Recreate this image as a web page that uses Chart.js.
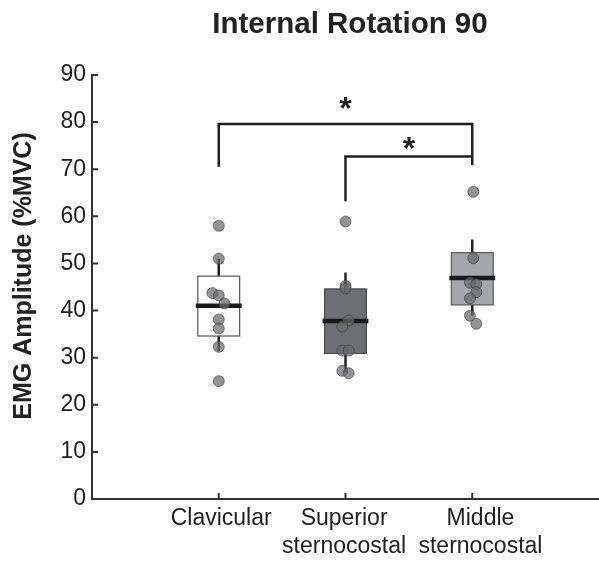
<!DOCTYPE html>
<html>
  <head>
    <title>Internal Rotation 90</title>
    <script src="https://cdn.jsdelivr.net/npm/chart.js"></script>
    <style>
      html, body { margin: 0; padding: 0; background: #fff; overflow: hidden; }
      canvas { display: block; }
    </style>
  </head>
  <body>
    <canvas id="emgChart" width="599" height="565"></canvas>
    <script>
      // groups along the x axis
      var categories = [["Clavicular"], ["Superior", "sternocostal"], ["Middle", "sternocostal"]];

      // individual subjects, %MVC
      var clavicularValues = [58.0, 51.0, 43.7, 43.2, 41.5, 38.1, 36.2, 32.3, 25.0];
      var clavicularJitter = [0, 0, -0.05, 0, 0.045, 0, 0, 0, 0];
      var superiorValues = [58.9, 45.2, 44.7, 37.9, 36.6, 31.5, 31.5, 27.2, 26.7];
      var superiorJitter = [0, 0, 0, 0.025, -0.025, -0.025, 0.025, -0.025, 0.025];
      var middleValues = [65.2, 51.1, 45.9, 45.6, 43.9, 42.6, 38.9, 37.2];
      var middleJitter = [0.008, 0.008, -0.018, 0.032, 0.032, -0.018, -0.018, 0.032];

      // box summaries per group
      var boxLow = [34.6, 30.9, 41.2];
      var boxMedian = [41.0, 37.8, 46.9];
      var boxHigh = [47.3, 44.6, 52.3];
      var whiskerLow = [31.4, 26.9, 38.9];
      var whiskerHigh = [51.0, 48.1, 55.1];

      // significance brackets and stars
      var bracketLong = [{ x: 1, y: 70.5 }, { x: 1, y: 79.6 }, { x: 3, y: 79.6 }, { x: 3, y: 70.9 }];
      var bracketShort = [{ x: 2, y: 63.2 }, { x: 2, y: 72.7 }, { x: 3, y: 72.7 }];
      var starX = [2, 2.5];
      var starY = [84.1, 75.5];

      var yMin = 0, yMax = 90, yStep = 10;

      var boxFill = ["#ffffff", "#6e6f73", "#a4a6a9"];
      var boxEdge = ["#555555", "#4a4a4a", "#5a5a5a"];
      var labelShift = [2.4, -1.4, 8.2]; // the category labels sit a bit off their ticks
      var textColor = "#222222";
      var fontFamily = "'Liberation Sans', Arial, sans-serif";

      function toPoints(values, jitter, pos) {
        return values.map(function (v, i) { return { x: pos + jitter[i], y: v }; });
      }

      var pointStyle = {
        pointRadius: 5.5,
        pointBackgroundColor: "rgba(105,105,110,0.72)",
        pointBorderColor: "rgba(60,60,60,0.6)",
        pointBorderWidth: 1,
      };

      var boxPlot = {
        id: "boxPlot",
        beforeDatasetsDraw: function (chart) {
          var c = chart.ctx, xs = chart.scales.x, ys = chart.scales.y;
          var half = (xs.getPixelForValue(1) - xs.getPixelForValue(0)) * 0.165;
          c.save();
          for (var i = 0; i < categories.length; i++) {
            var cx = xs.getPixelForValue(i + 1);
            var top = ys.getPixelForValue(boxHigh[i]);
            var bottom = ys.getPixelForValue(boxLow[i]);
            // whiskers
            c.strokeStyle = "#222";
            c.lineWidth = 2.5;
            c.beginPath();
            c.moveTo(cx, ys.getPixelForValue(whiskerHigh[i]));
            c.lineTo(cx, top);
            c.moveTo(cx, bottom);
            c.lineTo(cx, ys.getPixelForValue(whiskerLow[i]));
            c.stroke();
            // box
            c.fillStyle = boxFill[i];
            c.fillRect(cx - half, top, half * 2, bottom - top);
            c.strokeStyle = boxEdge[i];
            c.lineWidth = 1.2;
            c.strokeRect(cx - half, top, half * 2, bottom - top);
            // median
            var my = ys.getPixelForValue(boxMedian[i]);
            c.strokeStyle = "#1a1a1a";
            c.lineWidth = 4.5;
            c.beginPath();
            c.moveTo(cx - half - 2, my);
            c.lineTo(cx + half + 2, my);
            c.stroke();
          }
          c.restore();
        },
        afterDraw: function (chart) {
          var c = chart.ctx, xs = chart.scales.x, ys = chart.scales.y, area = chart.chartArea;
          c.save();
          // inward tick marks
          c.strokeStyle = "#333";
          c.lineWidth = 2;
          c.beginPath();
          ys.ticks.forEach(function (t) {
            var py = ys.getPixelForValue(t.value);
            c.moveTo(area.left, py);
            c.lineTo(area.left + 6, py);
          });
          xs.ticks.forEach(function (t) {
            var px = xs.getPixelForValue(t.value);
            c.moveTo(px, area.bottom);
            c.lineTo(px, area.bottom - 6);
          });
          c.stroke();

          // category labels
          c.fillStyle = textColor;
          c.textAlign = "center";
          c.textBaseline = "alphabetic";
          c.font = "23px " + fontFamily;
          xs.ticks.forEach(function (t, i) {
            var px = xs.getPixelForValue(t.value) + labelShift[i];
            categories[i].forEach(function (line, j) {
              c.fillText(line, px, area.bottom + 26 + j * 27.6);
            });
          });

          // stars
          c.font = "bold 32px " + fontFamily;
          for (var i = 0; i < starX.length; i++) {
            var m = c.measureText("*");
            var sx = xs.getPixelForValue(starX[i]);
            var sy = ys.getPixelForValue(starY[i]);
            c.fillText("*", sx, sy + (m.actualBoundingBoxAscent - m.actualBoundingBoxDescent) / 2);
          }

          // title
          c.font = "bold 29.5px " + fontFamily;
          c.fillText("Internal Rotation 90", 350, 33);

          // y axis title
          c.translate(24, 276);
          c.rotate(-Math.PI / 2);
          c.font = "bold 25px " + fontFamily;
          c.textBaseline = "middle";
          c.fillText("EMG Amplitude (%MVC)", 0, 0);
          c.restore();
        },
      };

      var ctx = document.getElementById("emgChart").getContext("2d");
      var emgChart = new Chart(ctx, {
        type: "scatter",
        data: {
          datasets: [
            Object.assign({ data: toPoints(clavicularValues, clavicularJitter, 1) }, pointStyle),
            Object.assign({ data: toPoints(superiorValues, superiorJitter, 2) }, pointStyle),
            Object.assign({ data: toPoints(middleValues, middleJitter, 3) }, pointStyle),
            {
              data: bracketLong,
              showLine: true,
              pointRadius: 0,
              borderColor: "#222",
              borderWidth: 2.5,
              borderJoinStyle: "miter",
            },
            {
              data: bracketShort,
              showLine: true,
              pointRadius: 0,
              borderColor: "#222",
              borderWidth: 2.5,
              borderJoinStyle: "miter",
            },
          ],
        },
        options: {
          responsive: false,
          maintainAspectRatio: false,
          animation: false,
          devicePixelRatio: 1,
          layout: { autoPadding: false, padding: { top: 75, right: 0, bottom: 0, left: 0 } },
          plugins: {
            legend: { display: false },
            tooltip: { enabled: false },
            title: { display: false },
          },
          scales: {
            x: {
              type: "linear",
              min: 0,
              max: 4,
              grid: { display: false, drawTicks: false },
              border: { display: true, color: "#333", width: 2 },
              afterBuildTicks: function (scale) {
                scale.ticks = [1, 2, 3].map(function (v) { return { value: v }; });
              },
              afterFit: function (scale) {
                scale.height = 66;
                scale.paddingLeft = 0;
                scale.paddingRight = 0;
              },
              ticks: { display: false },
            },
            y: {
              min: yMin,
              max: yMax,
              grid: { display: false, drawTicks: false },
              border: { display: true, color: "#333", width: 2 },
              afterFit: function (scale) {
                scale.width = 92;
                scale.paddingTop = 0;
                scale.paddingBottom = 0;
              },
              ticks: {
                stepSize: yStep,
                padding: 6,
                color: textColor,
                font: { family: fontFamily, size: 23 },
              },
            },
          },
        },
        plugins: [boxPlot],
      });
    </script>
  </body>
</html>
